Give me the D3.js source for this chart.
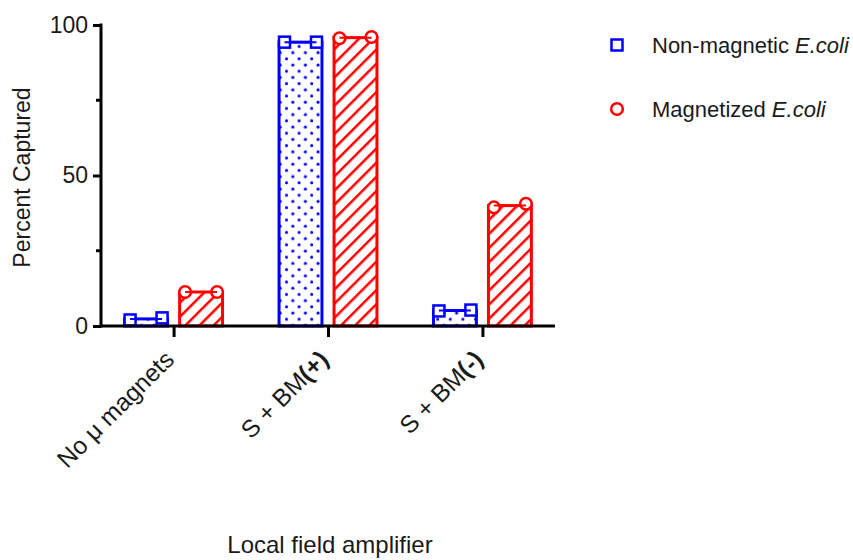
<!DOCTYPE html>
<html>
<head>
<meta charset="utf-8">
<script src="https://cdn.jsdelivr.net/npm/d3@7"></script>
<style>
  html, body { margin: 0; padding: 0; background: #fff; }
  svg { display: block; font-family: "Liberation Sans", Arial, Helvetica, sans-serif; }
</style>
</head>
<body>
<svg id="chart" width="853" height="560"></svg>
<script>
// Conditions along the x axis
const categories = ["No \u03bc magnets", "S + BM(+)", "S + BM(-)"];
// Bold part of each category label
const categoryBase = ["No \u03bc magnets", "S + BM", "S + BM"];
const categoryBold = ["", "(+)", "(-)"];

// Series and their replicate values (percent captured)
const seriesNames = ["Non-magnetic", "Magnetized"];
const nonMagnetic = [[2.0, 2.7], [94.3, 94.3], [5.0, 5.3]];
const magnetized = [[11.3, 11.3], [95.6, 96.0], [39.4, 40.6]];
const seriesValues = [nonMagnetic, magnetized];

const yTicks = [0, 50, 100];
const yMinorTicks = [25, 75];

const colors = ["#0000ff", "#ff0000"];

const svg = d3.select("#chart");
const defs = svg.append("defs");

// dotted fill for the blue bars
const dots = defs.append("pattern")
  .attr("id", "dots").attr("patternUnits", "userSpaceOnUse")
  .attr("width", 12.6).attr("height", 12.4);
dots.append("rect").attr("width", 12.6).attr("height", 12.4).attr("fill", "#fff");
dots.append("circle").attr("cx", 3).attr("cy", 3).attr("r", 1.5).attr("fill", colors[0]);
dots.append("circle").attr("cx", 9.3).attr("cy", 9.2).attr("r", 1.5).attr("fill", colors[0]);

// diagonal hatch for the red bars
const hatch = defs.append("pattern")
  .attr("id", "hatch").attr("patternUnits", "userSpaceOnUse")
  .attr("width", 10).attr("height", 10)
  .attr("patternTransform", "rotate(45)");
hatch.append("rect").attr("width", 10).attr("height", 10).attr("fill", "#fff");
hatch.append("line").attr("x1", 0).attr("y1", 0).attr("x2", 0).attr("y2", 10)
  .attr("stroke", colors[1]).attr("stroke-width", 5);

const fills = ["url(#dots)", "url(#hatch)"];

const axisLeft = 101, axisRight = 555;
const y = d3.scaleLinear().domain([0, 100]).range([326, 25]);
const x = d3.scalePoint().domain(categories).range([axisLeft, axisRight]).padding(0.47);
const xSub = d3.scaleBand().domain(seriesNames).range([-55, 55]).paddingInner(0.22).paddingOuter(0.11);
const bw = xSub.bandwidth();

const plot = svg.append("g");

// bars, markers and mean lines
seriesNames.forEach((s, si) => {
  categories.forEach((c, ci) => {
    const vals = seriesValues[si][ci];
    const mean = d3.mean(vals);
    const x0 = x(c) + xSub(s);
    const g = plot.append("g");
    g.append("rect")
      .attr("x", x0).attr("y", y(mean))
      .attr("width", bw).attr("height", y(0) - y(mean))
      .attr("fill", fills[si]).attr("stroke", colors[si]).attr("stroke-width", 3);
    const offsets = [-16, 16];
    vals.forEach((v, vi) => {
      const cx = x0 + bw / 2 + offsets[vi];
      if (si === 0) {
        g.append("rect").attr("x", cx - 5.5).attr("y", y(v) - 5.5).attr("width", 11).attr("height", 11)
          .attr("fill", "#fff").attr("stroke", colors[si]).attr("stroke-width", 2.5);
      } else {
        g.append("circle").attr("cx", cx).attr("cy", y(v)).attr("r", 5.8)
          .attr("fill", "#fff").attr("stroke", colors[si]).attr("stroke-width", 2.5);
      }
    });
    g.append("line")
      .attr("x1", x0 + bw / 2 + offsets[0]).attr("x2", x0 + bw / 2 + offsets[1])
      .attr("y1", y(mean)).attr("y2", y(mean))
      .attr("stroke", colors[si]).attr("stroke-width", 2);
  });
});

// y axis
const yAxis = svg.append("g").attr("transform", `translate(${axisLeft},0)`)
  .call(d3.axisLeft(y).tickValues(yTicks).tickSize(8).tickSizeOuter(0).tickPadding(5));
yAxis.select(".domain").attr("stroke", "#000").attr("stroke-width", 3)
  .attr("d", `M0,${y(100) - 1.5}V${y(0) + 1.5}`);
yAxis.selectAll(".tick line").attr("stroke", "#000").attr("stroke-width", 3);
yAxis.selectAll(".tick text").attr("font-size", 23).attr("fill", "#1a1a1a")
  .attr("font-family", "'Liberation Sans', Arial, sans-serif");
svg.append("g").attr("transform", `translate(${axisLeft},0)`)
  .selectAll("line").data(yMinorTicks).join("line")
  .attr("x1", -5).attr("x2", 0).attr("y1", d => y(d)).attr("y2", d => y(d))
  .attr("stroke", "#000").attr("stroke-width", 3);

// x axis
const xAxis = svg.append("g").attr("transform", `translate(0,${y(0)})`)
  .call(d3.axisBottom(x).tickSize(11).tickSizeOuter(0).tickFormat(""));
xAxis.select(".domain").attr("stroke", "#000").attr("stroke-width", 3)
  .attr("d", `M${axisLeft - 1.5},0H${axisRight}`);
xAxis.selectAll(".tick line").attr("stroke", "#000").attr("stroke-width", 3);

// rotated category labels
const labels = svg.append("g").selectAll("text").data(categories).join("text")
  .attr("transform", d => `translate(${x(d) + 2},${y(0) + 35}) rotate(-45)`)
  .attr("text-anchor", "end")
  .attr("font-size", 24.5).attr("fill", "#1a1a1a");
labels.append("tspan").text((d, i) => categoryBase[i]);
labels.append("tspan").attr("font-weight", "bold").text((d, i) => categoryBold[i]);

// axis titles
svg.append("text")
  .attr("transform", `translate(30,${(y(0) + y(100)) / 2 + 2}) rotate(-90)`)
  .attr("text-anchor", "middle").attr("font-size", 23).attr("fill", "#1a1a1a")
  .text("Percent Captured");
svg.append("text")
  .attr("x", 330).attr("y", 553)
  .attr("text-anchor", "middle").attr("font-size", 24).attr("fill", "#1a1a1a")
  .text("Local field amplifier");

// legend
const legendItems = [
  { name: "Non-magnetic ", color: colors[0], shape: "square" },
  { name: "Magnetized ", color: colors[1], shape: "circle" }
];
const legend = svg.append("g");
legendItems.forEach((d, i) => {
  const cy = 45 + i * 64;
  if (d.shape === "square") {
    legend.append("rect").attr("x", 617 - 5.5).attr("y", cy - 5.5).attr("width", 11).attr("height", 11)
      .attr("fill", "#fff").attr("stroke", d.color).attr("stroke-width", 2.5);
  } else {
    legend.append("circle").attr("cx", 617).attr("cy", cy).attr("r", 5.8)
      .attr("fill", "#fff").attr("stroke", d.color).attr("stroke-width", 2.5);
  }
  const t = legend.append("text").attr("x", 652).attr("y", cy + 7.5)
    .attr("font-size", 22).attr("fill", "#1a1a1a");
  t.append("tspan").text(d.name);
  t.append("tspan").attr("font-style", "italic").text("E.coli");
});
</script>
</body>
</html>
